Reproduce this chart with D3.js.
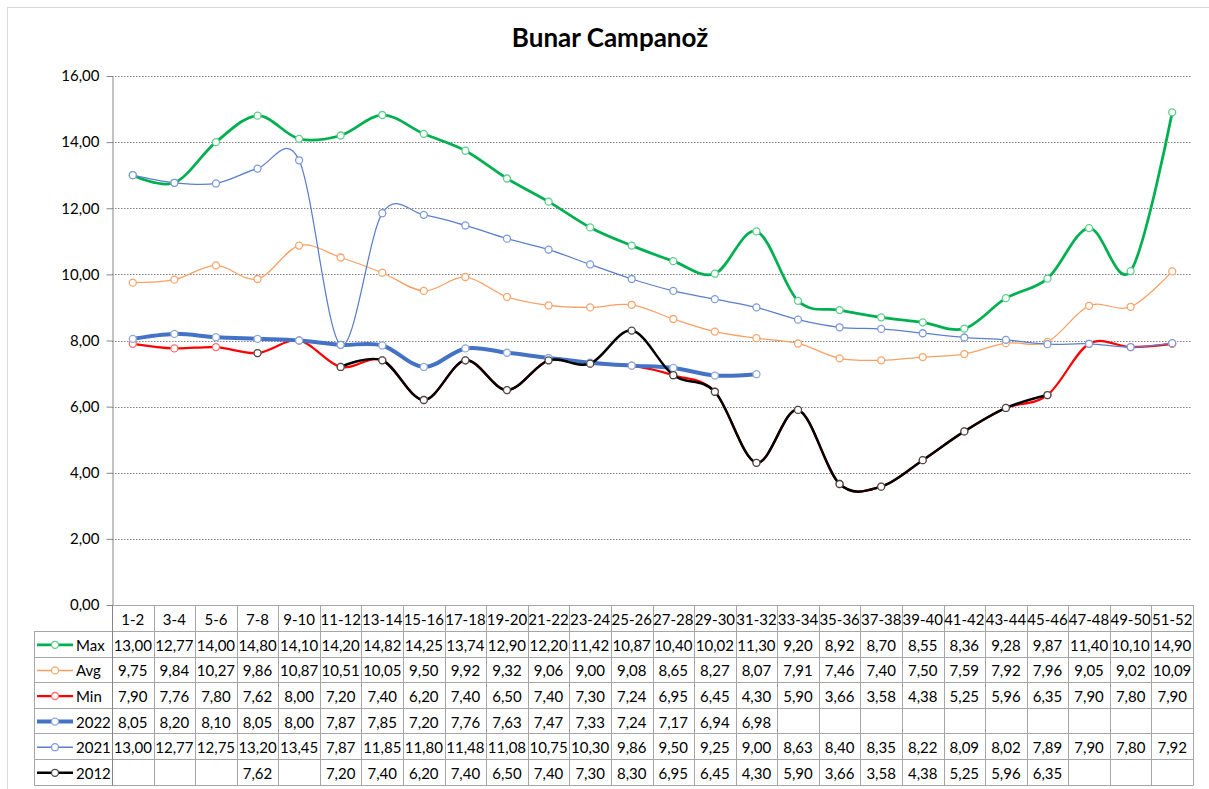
<!DOCTYPE html>
<html>
<head>
<meta charset="utf-8">
<script src="https://cdn.jsdelivr.net/npm/d3@7"></script>
<style>
  html, body { margin: 0; padding: 0; background: #fff; }
  svg { display: block; font-family: Lato, "Noto Sans", sans-serif; }
</style>
</head>
<body>
<svg id="chart" width="1209" height="789"></svg>
<script>
const title = "Bunar Campanož";
const categories = ["1-2","3-4","5-6","7-8","9-10","11-12","13-14","15-16","17-18","19-20","21-22","23-24","25-26","27-28","29-30","31-32","33-34","35-36","37-38","39-40","41-42","43-44","45-46","47-48","49-50","51-52"];
const maxValues  = [13.00,12.77,14.00,14.80,14.10,14.20,14.82,14.25,13.74,12.90,12.20,11.42,10.87,10.40,10.02,11.30,9.20,8.92,8.70,8.55,8.36,9.28,9.87,11.40,10.10,14.90];
const avgValues  = [9.75,9.84,10.27,9.86,10.87,10.51,10.05,9.50,9.92,9.32,9.06,9.00,9.08,8.65,8.27,8.07,7.91,7.46,7.40,7.50,7.59,7.92,7.96,9.05,9.02,10.09];
const minValues  = [7.90,7.76,7.80,7.62,8.00,7.20,7.40,6.20,7.40,6.50,7.40,7.30,7.24,6.95,6.45,4.30,5.90,3.66,3.58,4.38,5.25,5.96,6.35,7.90,7.80,7.90];
const y2022      = [8.05,8.20,8.10,8.05,8.00,7.87,7.85,7.20,7.76,7.63,7.47,7.33,7.24,7.17,6.94,6.98,null,null,null,null,null,null,null,null,null,null];
const y2021      = [13.00,12.77,12.75,13.20,13.45,7.87,11.85,11.80,11.48,11.08,10.75,10.30,9.86,9.50,9.25,9.00,8.63,8.40,8.35,8.22,8.09,8.02,7.89,7.90,7.80,7.92];
const y2012      = [null,null,null,7.62,null,7.20,7.40,6.20,7.40,6.50,7.40,7.30,8.30,6.95,6.45,4.30,5.90,3.66,3.58,4.38,5.25,5.96,6.35,null,null,null];
const seriesNames = ["Max","Avg","Min","2022","2021","2012"];
const yTicks = [0,2,4,6,8,10,12,14,16];

const seriesData = [maxValues, avgValues, minValues, y2022, y2021, y2012];
const styles = [
  {line:"#00b050", marker:"#5ccf8a", w:2.75},
  {line:"#f7a063", marker:"#f5a66e", w:1.25},
  {line:"#ff0000", marker:"#ff6b6b", w:2.25},
  {line:"#4472c4", marker:"#8eaadb", w:4},
  {line:"#5b7fcc", marker:"#7f9ad6", w:1.25},
  {line:"#000000", marker:"#4a4a4a", w:2.5}
];

const svg = d3.select("#chart");
const plotL = 112, plotR = 1193, plotT = 76, plotB = 605;
const fs = 15;
const x = d3.scaleBand().domain(categories).range([plotL, plotR]);
const y = d3.scaleLinear().domain([0,16]).range([plotB, plotT]);
const fmt = v => v == null ? "" : d3.format(".2f")(v).replace(".", ",");

// chart frame (top/left visible)
svg.append("rect").attr("x",7.5).attr("y",7.5).attr("width",1210).attr("height",800)
  .attr("fill","none").attr("stroke","#d9d9d9").attr("stroke-width",1);

// title
svg.append("text").attr("x",610).attr("y",47).attr("text-anchor","middle")
  .attr("font-size",26).attr("font-weight","bold").attr("fill","#000").text(title);

// gridlines
svg.append("g").selectAll("line").data(yTicks.filter(d=>d>0)).join("line")
  .attr("x1",plotL).attr("x2",plotR-1)
  .attr("y1",d=>Math.round(y(d))+0.5).attr("y2",d=>Math.round(y(d))+0.5)
  .attr("stroke","#808080").attr("stroke-width",1).attr("stroke-dasharray","1.5,1.5");

// y axis
const yAxis = svg.append("g").attr("transform",`translate(${plotL+0.5},0)`)
  .call(d3.axisLeft(y).tickValues(yTicks).tickFormat(fmt).tickSize(6).tickPadding(7).tickSizeOuter(0));
yAxis.select(".domain").attr("stroke","#868686");
yAxis.selectAll(".tick line").attr("stroke","#868686");
yAxis.selectAll(".tick text").attr("font-size",fs).attr("fill","#000").attr("font-family","Lato, sans-serif");

// data table
const rowH = 25.6, headT = plotB, headB = 631;
const tableBottom = headB + rowH*seriesNames.length;
const legendL = 34;
const tg = svg.append("g");
const gridCol = "#a6a6a6";
tg.append("line").attr("x1",plotL).attr("x2",plotR).attr("y1",headT+0.5).attr("y2",headT+0.5).attr("stroke",gridCol);
for (let i=0;i<=seriesNames.length;i++){
  const yy = Math.round(headB + rowH*i)+0.5;
  tg.append("line").attr("x1",legendL).attr("x2",plotR).attr("y1",yy).attr("y2",yy).attr("stroke",gridCol);
}
const edges = categories.map(c=>x(c)).concat([plotR]);
edges.forEach((ex,i)=>{
  tg.append("line").attr("x1",Math.round(ex)+0.5).attr("x2",Math.round(ex)+0.5)
    .attr("y1",headT).attr("y2",Math.round(tableBottom)+0.5).attr("stroke",i===0?"#868686":gridCol);
});
tg.append("line").attr("x1",legendL+0.5).attr("x2",legendL+0.5).attr("y1",headB).attr("y2",Math.round(tableBottom)+0.5).attr("stroke",gridCol);

tg.selectAll("text.hdr").data(categories).join("text").attr("class","hdr")
  .attr("x",d=>x(d)+x.bandwidth()/2).attr("y",(headT+headB)/2+1)
  .attr("text-anchor","middle").attr("dominant-baseline","central")
  .attr("font-size",fs).attr("fill","#000").text(d=>d);

seriesNames.forEach((name,si)=>{
  const cy = headB + rowH*si + rowH/2 + 1;
  const st = styles[si];
  tg.append("line").attr("x1",37).attr("x2",73).attr("y1",cy).attr("y2",cy)
    .attr("stroke",st.line).attr("stroke-width",Math.max(st.w,1.5));
  tg.append("circle").attr("cx",55).attr("cy",cy).attr("r",3.5)
    .attr("fill","#fff").attr("stroke",st.marker).attr("stroke-width",1.3);
  tg.append("text").attr("x",76).attr("y",cy).attr("dominant-baseline","central")
    .attr("font-size",fs).attr("fill","#000").text(name);
  tg.selectAll(null).data(seriesData[si]).join("text")
    .attr("x",(d,i)=>x(categories[i])+x.bandwidth()/2).attr("y",cy)
    .attr("text-anchor","middle").attr("dominant-baseline","central")
    .attr("font-size",fs).attr("fill","#000").text(d=>fmt(d));
});

const line = d3.line()
  .defined(d=>d.v!=null)
  .x(d=>x(d.c)+x.bandwidth()/2)
  .y(d=>y(d.v))
  .curve(d3.curveCardinal.tension(0));

seriesData.forEach((vals,si)=>{
  const st = styles[si];
  const pts = vals.map((v,i)=>({c:categories[i], v}));
  const g = svg.append("g");
  g.append("path").datum(pts).attr("d",line).attr("fill","none")
    .attr("stroke",st.line).attr("stroke-width",st.w).attr("stroke-linejoin","round").attr("stroke-linecap","round");
  g.selectAll("circle").data(pts.filter(p=>p.v!=null)).join("circle")
    .attr("cx",d=>x(d.c)+x.bandwidth()/2).attr("cy",d=>y(d.v)).attr("r",3.5)
    .attr("fill","#fff").attr("stroke",st.marker).attr("stroke-width",1.3);
});
</script>
</body>
</html>
